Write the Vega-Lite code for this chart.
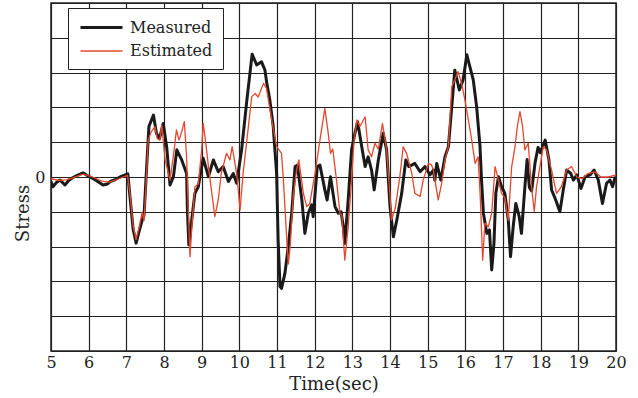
{
  "$schema": "https://vega.github.io/schema/vega-lite/v6.json",
  "width": 565,
  "height": 348,
  "autosize": {"type": "none"},
  "padding": {"left": 51, "top": 3, "right": 22, "bottom": 47},
  "background": "white",
  "config": {
    "view": {"stroke": "#222", "strokeWidth": 1.5},
    "font": "DejaVu Serif"
  },
  "datasets": {
    "measured": [
      {"t":5.00,"v":-0.13},{"t":5.05,"v":-0.28},{"t":5.15,"v":-0.15},{"t":5.24,"v":-0.09},{"t":5.37,"v":-0.23},{"t":5.47,"v":-0.1},{"t":5.56,"v":-0.03},{"t":5.7,"v":0.05},{"t":5.85,"v":0.12},{"t":5.95,"v":0.05},{"t":6.04,"v":0.0},{"t":6.2,"v":-0.1},{"t":6.38,"v":-0.23},{"t":6.5,"v":-0.2},{"t":6.57,"v":-0.13},{"t":6.7,"v":-0.08},{"t":6.83,"v":0.0},{"t":6.95,"v":0.05},{"t":7.04,"v":0.09},
      {"t":7.1,"v":-0.6},{"t":7.18,"v":-1.5},{"t":7.26,"v":-1.9},{"t":7.33,"v":-1.6},{"t":7.41,"v":-1.28},{"t":7.47,"v":-1.1},{"t":7.54,"v":0.3},{"t":7.6,"v":1.45},{"t":7.72,"v":1.78},{"t":7.8,"v":1.25},{"t":7.88,"v":1.1},{"t":7.98,"v":1.54},{"t":8.07,"v":0.87},{"t":8.16,"v":-0.23},{"t":8.25,"v":0.01},{"t":8.34,"v":0.78},{"t":8.47,"v":0.49},{"t":8.6,"v":0.1},{"t":8.62,"v":-0.9},{"t":8.66,"v":-1.95},{"t":8.74,"v":-1.2},{"t":8.82,"v":-0.47},{"t":8.91,"v":-0.28},{"t":9.04,"v":0.54},{"t":9.18,"v":0.01},{"t":9.31,"v":0.49},{"t":9.44,"v":0.15},{"t":9.57,"v":0.3},{"t":9.71,"v":-0.13},{"t":9.84,"v":0.1},{"t":9.93,"v":-0.18},
      {"t":10.06,"v":0.78},{"t":10.2,"v":2.21},{"t":10.34,"v":3.53},{"t":10.46,"v":3.22},{"t":10.59,"v":3.31},{"t":10.68,"v":3.07},{"t":10.73,"v":2.69},{"t":10.81,"v":2.21},{"t":10.9,"v":1.45},{"t":10.99,"v":0.1},{"t":11.03,"v":-1.81},{"t":11.08,"v":-3.15},{"t":11.12,"v":-3.2},{"t":11.21,"v":-2.77},{"t":11.3,"v":-2.0},{"t":11.39,"v":-1.04},{"t":11.48,"v":0.3},{"t":11.54,"v":0.34},{"t":11.66,"v":-0.66},{"t":11.74,"v":-1.62},{"t":11.83,"v":-1.04},{"t":11.92,"v":-0.8},{"t":11.96,"v":-1.14},
      {"t":12.07,"v":0.3},{"t":12.14,"v":0.34},{"t":12.27,"v":-0.37},{"t":12.33,"v":-0.66},{"t":12.42,"v":0.01},{"t":12.54,"v":-0.85},{"t":12.63,"v":-1.04},{"t":12.7,"v":-1.0},{"t":12.76,"v":-1.43},{"t":12.8,"v":-1.91},{"t":12.89,"v":-0.66},{"t":12.98,"v":0.78},{"t":13.07,"v":1.26},{"t":13.14,"v":1.59},{"t":13.25,"v":0.87},{"t":13.34,"v":0.3},{"t":13.42,"v":0.58},{"t":13.51,"v":0.2},{"t":13.58,"v":-0.37},{"t":13.69,"v":0.49},{"t":13.82,"v":1.26},{"t":13.91,"v":0.78},
      {"t":14.0,"v":-0.85},{"t":14.09,"v":-1.72},{"t":14.18,"v":-1.24},{"t":14.31,"v":-0.47},{"t":14.42,"v":0.49},{"t":14.5,"v":0.3},{"t":14.66,"v":0.39},{"t":14.8,"v":0.15},{"t":14.93,"v":0.3},{"t":15.06,"v":0.06},{"t":15.15,"v":0.2},{"t":15.19,"v":-0.09},{"t":15.24,"v":0.39},{"t":15.35,"v":-0.09},{"t":15.46,"v":0.58},{"t":15.55,"v":0.87},{"t":15.64,"v":2.02},{"t":15.72,"v":3.07},{"t":15.84,"v":2.5},{"t":15.94,"v":2.79},
      {"t":16.04,"v":3.51},{"t":16.12,"v":3.17},{"t":16.21,"v":2.79},{"t":16.3,"v":2.02},{"t":16.39,"v":0.87},{"t":16.43,"v":-0.09},{"t":16.48,"v":-1.04},{"t":16.57,"v":-1.62},{"t":16.64,"v":-1.52},{"t":16.7,"v":-2.67},{"t":16.76,"v":-1.91},{"t":16.81,"v":-0.47},{"t":16.88,"v":0.01},{"t":16.96,"v":-0.28},{"t":17.05,"v":-0.47},{"t":17.14,"v":-1.24},{"t":17.2,"v":-2.29},{"t":17.27,"v":-1.43},{"t":17.34,"v":-0.76},{"t":17.43,"v":-1.14},{"t":17.49,"v":-1.62},{"t":17.58,"v":-0.3},{"t":17.64,"v":0.5},{"t":17.7,"v":-0.3},{"t":17.76,"v":-0.4},{"t":17.85,"v":0.4},{"t":17.93,"v":0.85},{"t":17.99,"v":0.7},
      {"t":18.12,"v":1.06},{"t":18.22,"v":0.49},{"t":18.29,"v":-0.37},{"t":18.4,"v":-0.66},{"t":18.51,"v":-1.0},{"t":18.6,"v":-0.37},{"t":18.69,"v":0.2},{"t":18.8,"v":0.1},{"t":18.87,"v":-0.09},{"t":18.96,"v":0.06},{"t":19.07,"v":-0.33},{"t":19.18,"v":0.01},{"t":19.31,"v":0.06},{"t":19.42,"v":0.2},{"t":19.53,"v":-0.09},{"t":19.64,"v":-0.76},{"t":19.75,"v":-0.18},{"t":19.84,"v":-0.09},{"t":19.91,"v":-0.28},{"t":19.98,"v":0.01}
    ],
    "estimated": [
      {"t":5.0,"v":-0.05},{"t":5.2,"v":-0.1},{"t":5.4,"v":-0.08},{"t":5.6,"v":-0.02},{"t":5.85,"v":0.08},{"t":6.1,"v":0.0},{"t":6.35,"v":-0.12},{"t":6.55,"v":-0.15},{"t":6.8,"v":-0.05},{"t":7.03,"v":0.05},
      {"t":7.1,"v":-0.5},{"t":7.18,"v":-1.4},{"t":7.26,"v":-1.8},{"t":7.34,"v":-1.45},{"t":7.42,"v":-1.0},{"t":7.47,"v":-1.25},{"t":7.52,"v":-0.3},{"t":7.58,"v":1.06},{"t":7.66,"v":1.3},{"t":7.76,"v":1.45},{"t":7.82,"v":1.1},{"t":7.89,"v":1.06},{"t":7.94,"v":1.49},{"t":8.03,"v":0.49},{"t":8.16,"v":-0.09},{"t":8.27,"v":0.78},{"t":8.33,"v":1.35},{"t":8.4,"v":1.06},{"t":8.47,"v":1.3},{"t":8.54,"v":1.59},{"t":8.6,"v":0.58},{"t":8.64,"v":-0.8},{"t":8.69,"v":-2.29},{"t":8.74,"v":-1.43},{"t":8.82,"v":-0.28},{"t":8.91,"v":-0.2},{"t":9.0,"v":0.78},{"t":9.04,"v":1.54},{"t":9.1,"v":1.06},{"t":9.18,"v":0.3},{"t":9.27,"v":-0.47},{"t":9.35,"v":-1.14},{"t":9.44,"v":-0.66},{"t":9.52,"v":0.1},{"t":9.66,"v":0.68},{"t":9.75,"v":0.49},{"t":9.81,"v":0.87},{"t":9.93,"v":0.1},
      {"t":10.02,"v":-0.95},{"t":10.1,"v":0.1},{"t":10.2,"v":1.06},{"t":10.33,"v":2.31},{"t":10.42,"v":2.4},{"t":10.5,"v":2.3},{"t":10.64,"v":2.69},{"t":10.72,"v":2.55},{"t":10.86,"v":1.64},{"t":10.99,"v":0.87},{"t":11.12,"v":0.68},{"t":11.17,"v":-0.09},{"t":11.26,"v":-1.81},{"t":11.3,"v":-2.5},{"t":11.35,"v":-2.0},{"t":11.43,"v":-0.56},{"t":11.52,"v":0.2},{"t":11.58,"v":0.49},{"t":11.7,"v":-0.47},{"t":11.79,"v":-0.85},{"t":11.87,"v":-0.76},
      {"t":12.01,"v":0.1},{"t":12.14,"v":1.06},{"t":12.27,"v":1.97},{"t":12.36,"v":1.26},{"t":12.42,"v":0.68},{"t":12.48,"v":0.8},{"t":12.58,"v":-0.09},{"t":12.67,"v":-1.04},{"t":12.72,"v":-1.1},{"t":12.8,"v":-2.39},{"t":12.89,"v":-1.43},{"t":12.98,"v":-0.09},{"t":13.04,"v":0.97},{"t":13.12,"v":1.64},{"t":13.2,"v":1.45},{"t":13.34,"v":1.73},{"t":13.42,"v":0.78},{"t":13.51,"v":0.58},{"t":13.6,"v":0.97},{"t":13.69,"v":0.8},{"t":13.8,"v":1.54},{"t":13.91,"v":0.78},
      {"t":14.0,"v":-0.56},{"t":14.04,"v":-1.24},{"t":14.14,"v":-0.9},{"t":14.26,"v":0.0},{"t":14.35,"v":0.87},{"t":14.44,"v":0.68},{"t":14.58,"v":0.1},{"t":14.66,"v":-0.47},{"t":14.8,"v":-0.56},{"t":14.88,"v":-0.09},{"t":15.02,"v":0.39},{"t":15.1,"v":0.35},{"t":15.15,"v":0.2},{"t":15.28,"v":-0.66},{"t":15.37,"v":-0.2},{"t":15.46,"v":0.49},{"t":15.55,"v":0.87},{"t":15.64,"v":2.6},{"t":15.72,"v":2.79},{"t":15.81,"v":3.03},{"t":15.9,"v":2.69},{"t":15.99,"v":2.21},
      {"t":16.08,"v":1.64},{"t":16.17,"v":1.06},{"t":16.26,"v":0.39},{"t":16.34,"v":0.58},{"t":16.4,"v":-0.66},{"t":16.46,"v":-2.39},{"t":16.52,"v":-1.33},{"t":16.61,"v":-1.43},{"t":16.7,"v":-1.04},{"t":16.79,"v":0.3},{"t":16.88,"v":-0.09},{"t":16.96,"v":-0.47},{"t":17.05,"v":-0.6},{"t":17.14,"v":-1.24},{"t":17.23,"v":0.3},{"t":17.32,"v":0.87},{"t":17.38,"v":1.45},{"t":17.45,"v":1.88},{"t":17.52,"v":1.45},{"t":17.58,"v":0.78},{"t":17.67,"v":0.97},{"t":17.75,"v":-0.2},{"t":17.83,"v":-1.0},{"t":17.89,"v":-0.28},
      {"t":18.07,"v":0.87},{"t":18.15,"v":0.8},{"t":18.29,"v":0.2},{"t":18.42,"v":-0.47},{"t":18.55,"v":-0.28},{"t":18.69,"v":0.2},{"t":18.82,"v":0.3},{"t":18.96,"v":0.0},{"t":19.1,"v":-0.05},{"t":19.25,"v":0.1},{"t":19.44,"v":0.15},{"t":19.6,"v":0.0},{"t":19.8,"v":0.0},{"t":20.0,"v":0.06}
    ]
  },
  "encoding": {
    "x": {
      "field": "t", "type": "quantitative",
      "scale": {"domain": [5, 20], "nice": false, "zero": false},
      "axis": {
        "values": [5,6,7,8,9,10,11,12,13,14,15,16,17,18,19,20],
        "title": "Time(sec)",
        "titleFont": "DejaVu Serif", "titleFontSize": 18, "titleFontWeight": "normal", "titleColor": "#222",
        "titleBaseline": "alphabetic", "titleY": 38,
        "labelFont": "DejaVu Serif", "labelFontSize": 16, "labelColor": "#222",
        "labelPadding": 3, "ticks": false, "domain": false,
        "grid": true, "gridColor": "#222", "gridWidth": 1.2, "gridOpacity": 1,
        "labelFlush": false, "labelOverlap": false
      }
    },
    "y": {
      "field": "v", "type": "quantitative",
      "scale": {"domain": [-5, 5], "nice": false},
      "axis": {
        "values": [-5,-4,-3,-2,-1,0,1,2,3,4,5],
        "labelExpr": "datum.value == 0 ? '0' : ''",
        "labelOverlap": false,
        "title": "Stress",
        "titleFont": "DejaVu Serif", "titleFontSize": 18, "titleFontWeight": "normal", "titleColor": "#222",
        "titleAngle": -90, "titleBaseline": "middle", "titleAlign": "center",
        "titleX": -28, "titleY": 210,
        "labelFont": "DejaVu Serif", "labelFontSize": 16, "labelColor": "#222",
        "labelPadding": 6, "ticks": false, "domain": false,
        "grid": true, "gridColor": "#222", "gridWidth": 1.2, "gridOpacity": 1
      }
    },
    "color": {
      "field": "series", "type": "nominal",
      "scale": {"domain": ["Measured", "Estimated"], "range": ["#1a1a1a", "#e5482e"]},
      "legend": {
        "orient": "none", "legendX": 17, "legendY": 5, "title": null,
        "strokeColor": "#222", "fillColor": "white", "padding": 10,
        "symbolType": "M-0.875,0H4.375", "symbolSize": 256, "symbolStrokeWidth": 2.5,
        "labelFont": "DejaVu Serif", "labelFontSize": 16, "labelColor": "#222",
        "labelOffset": 33, "rowPadding": 6
      }
    },
    "strokeWidth": {
      "field": "series", "type": "nominal",
      "scale": {"domain": ["Measured", "Estimated"], "range": [3, 1.3]},
      "legend": null
    }
  },
  "layer": [
    {
      "data": {"name": "measured"},
      "transform": [{"calculate": "'Measured'", "as": "series"}],
      "mark": {"type": "line", "strokeJoin": "round", "clip": true}
    },
    {
      "data": {"name": "estimated"},
      "transform": [{"calculate": "'Estimated'", "as": "series"}],
      "mark": {"type": "line", "strokeJoin": "round", "clip": true}
    }
  ]
}
